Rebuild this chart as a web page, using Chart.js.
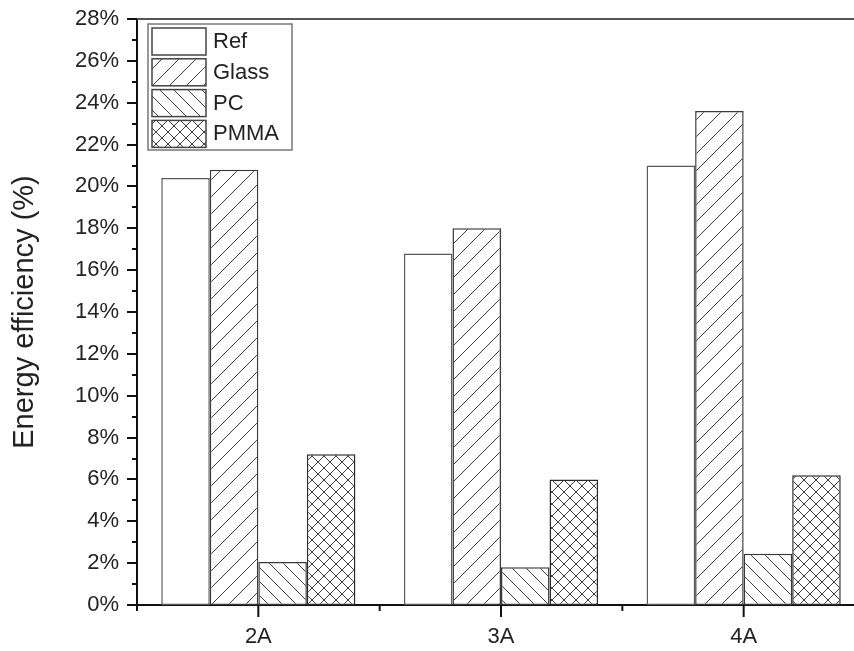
<!DOCTYPE html>
<html>
<head>
<meta charset="utf-8">
<script src="https://cdn.jsdelivr.net/npm/chart.js@4.4.0/dist/chart.umd.min.js"></script>
<style>
  html, body { margin: 0; padding: 0; background: #fff; overflow: hidden; }
  #wrap { width: 854px; height: 651px; overflow: hidden; }
  canvas { display: block; }
</style>
</head>
<body>
<div id="wrap"><canvas id="chart" width="880" height="651"></canvas></div>
<script>
// Energy efficiency per current setting, one bar per cover material
const categories = ["2A", "3A", "4A"]
const refValues = [20.4, 16.8, 21.0]
const glassValues = [20.8, 18.0, 23.6]
const pcValues = [2.05, 1.8, 2.45]
const pmmaValues = [7.2, 6.0, 6.2]
const yTicks = [0, 2, 4, 6, 8, 10, 12, 14, 16, 18, 20, 22, 24, 26, 28]

const FONT = "'Liberation Sans', Arial, sans-serif"
const TEXT = "#222"

const canvas = document.getElementById("chart")
const ctx = canvas.getContext("2d")

// Hatch tiles: "fwd" = /, "back" = \, "cross" = both
function hatch(kind, size) {
  const c = document.createElement("canvas")
  c.width = size
  c.height = size
  const g = c.getContext("2d")
  g.fillStyle = "#fff"
  g.fillRect(0, 0, size, size)
  g.strokeStyle = "#3c3c3c"
  g.lineWidth = 1
  g.beginPath()
  if (kind === "fwd" || kind === "cross") {
    g.moveTo(-1, size + 1); g.lineTo(size + 1, -1)
    g.moveTo(-1, 1); g.lineTo(1, -1)
    g.moveTo(size - 1, size + 1); g.lineTo(size + 1, size - 1)
  }
  if (kind === "back" || kind === "cross") {
    g.moveTo(-1, -1); g.lineTo(size + 1, size + 1)
    g.moveTo(size - 1, -1); g.lineTo(size + 1, 1)
    g.moveTo(-1, size - 1); g.lineTo(1, size + 1)
  }
  g.stroke()
  return ctx.createPattern(c, "repeat")
}

const datasets = [
  { label: "Ref", data: refValues, backgroundColor: "#fff", borderColor: "#5a5a5a" },
  { label: "Glass", data: glassValues, backgroundColor: hatch("fwd", 17), borderColor: "#3a3a3a" },
  { label: "PC", data: pcValues, backgroundColor: hatch("back", 14), borderColor: "#3a3a3a" },
  { label: "PMMA", data: pmmaValues, backgroundColor: hatch("cross", 12), borderColor: "#2a2a2a" }
].map(d => Object.assign(d, { borderWidth: 1.5, borderSkipped: false }))

// Tick marks, frame line and the boxed legend
const decorations = {
  id: "decorations",
  afterDraw(chart) {
    const { ctx, chartArea, scales } = chart
    const x = scales.x
    const y = scales.y
    ctx.save()
    ctx.strokeStyle = "#111"
    ctx.lineWidth = 2
    ctx.beginPath()
    for (let v = 0; v <= 28; v++) {
      const py = Math.round(y.getPixelForValue(v))
      const len = v % 2 === 0 ? 10 : 5
      ctx.moveTo(chartArea.left - len, py)
      ctx.lineTo(chartArea.left, py)
    }
    const step = (x.getPixelForValue(1) - x.getPixelForValue(0))
    categories.forEach((_, i) => {
      const cx = x.getPixelForValue(i)
      ctx.moveTo(cx, chartArea.bottom)
      ctx.lineTo(cx, chartArea.bottom + 12)
      const bx = cx - step / 2
      ctx.moveTo(bx, chartArea.bottom)
      ctx.lineTo(bx, chartArea.bottom + 6)
    })
    ctx.stroke()

    // top frame line
    ctx.strokeStyle = "#555"
    ctx.beginPath()
    ctx.moveTo(chartArea.left, chartArea.top)
    ctx.lineTo(chartArea.right, chartArea.top)
    ctx.stroke()

    // legend
    const lx = 148, ly = 24, lw = 144, lh = 126
    ctx.fillStyle = "#fff"
    ctx.fillRect(lx, ly, lw, lh)
    ctx.strokeStyle = "#777"
    ctx.lineWidth = 1.5
    ctx.strokeRect(lx, ly, lw, lh)
    ctx.font = "22px " + FONT
    ctx.textBaseline = "middle"
    chart.data.datasets.forEach((ds, i) => {
      const sy = 28 + i * 30.8
      ctx.fillStyle = ds.backgroundColor
      ctx.fillRect(152, sy, 54, 27)
      ctx.strokeStyle = "#444"
      ctx.lineWidth = 1.5
      ctx.strokeRect(152, sy, 54, 27)
      ctx.fillStyle = TEXT
      ctx.fillText(ds.label, 213, sy + 14)
    })
    ctx.restore()
  }
}

new Chart(ctx, {
  type: "bar",
  data: { labels: categories, datasets },
  plugins: [decorations],
  options: {
    responsive: false,
    animation: false,
    layout: { padding: { top: 19, right: 15, left: 0, bottom: 0 } },
    datasets: { bar: { categoryPercentage: 0.8, barPercentage: 1.0 } },
    plugins: { legend: { display: false }, tooltip: { enabled: false } },
    scales: {
      x: {
        grid: { display: false, drawTicks: false },
        border: { color: "#111", width: 2 },
        ticks: { font: { family: FONT, size: 22 }, color: TEXT, padding: 19 },
        afterFit: s => { s.height = 46; s.paddingLeft = 0; s.paddingRight = 0 }
      },
      y: {
        min: 0,
        max: 28,
        afterBuildTicks: s => { s.ticks = yTicks.map(v => ({ value: v })) },
        grid: { display: false, drawTicks: false },
        border: { color: "#111", width: 2 },
        ticks: { font: { family: FONT, size: 22 }, color: TEXT, padding: 18, callback: v => v + "%" },
        title: {
          display: true,
          text: "Energy efficiency (%)",
          font: { family: FONT, size: 29 },
          color: TEXT,
          padding: { top: 8, bottom: 0 }
        },
        afterFit: s => { s.width = 137; s.paddingTop = 0; s.paddingBottom = 0 }
      }
    }
  }
})
</script>
</body>
</html>
